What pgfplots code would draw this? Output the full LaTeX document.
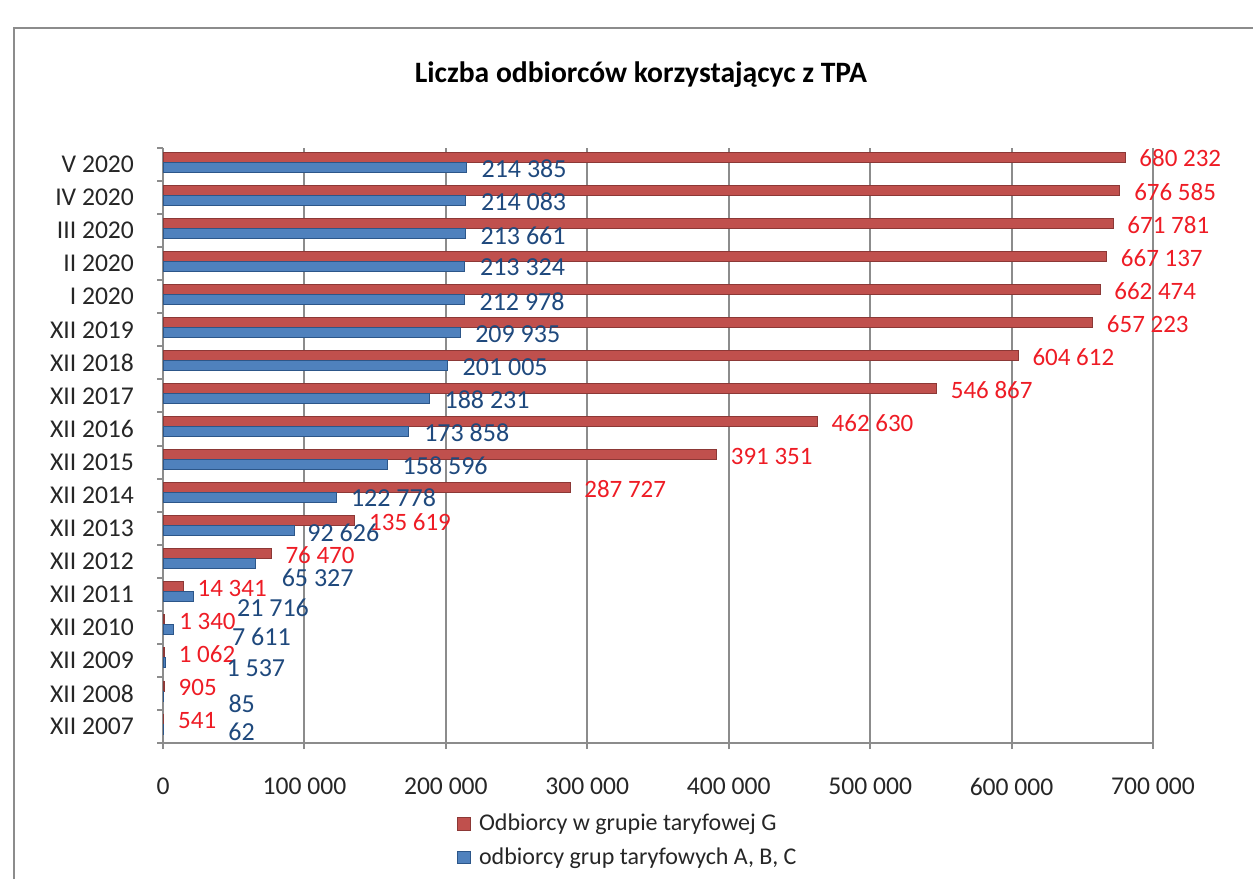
\documentclass[border=0pt]{standalone}
\usepackage{pgfplots}
\pgfplotsset{compat=1.18}
\usepackage{pgfplotstable}
\usepackage{fontspec}
\setmainfont{Carlito}
\definecolor{barred}{HTML}{C0504D}
\definecolor{barreddk}{HTML}{8C3836}
\definecolor{barblue}{HTML}{4F81BD}
\definecolor{barbluedk}{HTML}{2C5689}
\definecolor{labred}{HTML}{EE1C25}
\definecolor{labblue}{HTML}{1F497D}
\definecolor{gridgray}{HTML}{8C8C8C}

\pgfplotstableread[col sep=comma]{
y,g,b,glab,blab,bsh,bys
0,541,62,541,62,32.5,-2.75
1,905,85,905,85,32.5,-5
2,1062,1537,1 062,1 537,30.5,-4
3,1340,7611,1 340,7 611,29,-5
4,14341,21716,14 341,21 716,21.5,-7
5,76470,65327,76 470,65 327,13,-8.5
6,135619,92626,135 619,92 626,6.5,-2.5
7,287727,122778,287 727,122 778,7,-1.25
8,391351,158596,391 351,158 596,7.5,-2
9,462630,173858,462 630,173 858,7.5,-1.75
10,546867,188231,546 867,188 231,7.5,-2
11,604612,201005,604 612,201 005,7.5,-2
12,657223,209935,657 223,209 935,7.5,-2.25
13,662474,212978,662 474,212 978,7.5,-2.5
14,667137,213324,667 137,213 324,7.5,-1.75
15,671781,213661,671 781,213 661,7.5,-2.5
16,676585,214083,676 585,214 083,7.5,-2.25
17,680232,214385,680 232,214 385,7.5,-2.25
}\data

\begin{document}
\begin{tikzpicture}
\path[use as bounding box] (0,0) rectangle (626.5pt,439.5pt);
\draw[gridgray, line width=1pt] (7pt,0) -- (7pt,425.5pt) -- (626.5pt,425.5pt);
\node[font=\bfseries\fontsize{14.8}{17}\selectfont] at (320.5pt,402pt) {Liczba odbiorców korzystającyc z TPA};
\begin{axis}[
  at={(81.5pt,68pt)}, anchor=south west,
  scale only axis, width=495pt, height=297.5pt,
  xmin=0, xmax=700000, ymin=-0.5, ymax=17.5,
  axis x line*=bottom, axis y line*=left,
  axis line style={gridgray, line width=1pt, -},
  xtick={0,100000,200000,300000,400000,500000,600000,700000},
  xticklabels={0,100 000,200 000,300 000,400 000,500 000,600 000,700 000},
  scaled x ticks=false,
  xmajorgrids, grid style={gridgray, line width=1pt},
  ytick={0,...,17},
  yticklabels={XII 2007,XII 2008,XII 2009,XII 2010,XII 2011,XII 2012,XII 2013,XII 2014,XII 2015,XII 2016,XII 2017,XII 2018,XII 2019,I 2020,II 2020,III 2020,IV 2020,V 2020},
  minor ytick={-0.5,0.5,...,17.5},
  tick align=outside,
  major tick length=3pt, minor tick length=3pt,
  major y tick style={draw=none},
  minor y tick style={draw=gridgray, line width=1pt},
  xtick style={draw=gridgray, line width=1pt},
  ticklabel style={font=\fontsize{12.8}{14}\selectfont, text=black!85},
  yticklabel style={xshift=-8pt},
  xticklabel style={yshift=-11pt},
  /pgf/number format/assume math mode=true,
  legend style={at={(0.291,-0.105)}, anchor=north west, draw=none, fill=none,
    font=\fontsize{12}{14}\selectfont, row sep=3pt, text=black!85,
    nodes={inner xsep=4pt}},
  legend cell align=left,
  legend image code/.code={\fill[#1] (0pt,-3.2pt) rectangle (6.4pt,3.2pt);},
  clip=false,
]
\addplot[xbar, bar width=5pt, bar shift=3.75pt, fill=barred, draw=barreddk, line width=0.4pt,
  nodes near coords, point meta=explicit symbolic,
  nodes near coords style={anchor=west, inner sep=0pt, xshift=7pt, yshift=3pt,
    text=labred, font=\fontsize{12.5}{14}\selectfont}]
  table[x=g, y=y, meta=glab]{\data};
\addlegendentry{Odbiorcy w grupie taryfowej G}
\addplot[xbar, bar width=5pt, bar shift=-1.25pt, fill=barblue, draw=barbluedk, line width=0.4pt,
  nodes near coords, point meta=explicit symbolic,
  visualization depends on={\thisrow{bsh} \as \lblshift},
  visualization depends on={\thisrow{bys} \as \lblys},
  nodes near coords style={anchor=west, inner sep=0pt, xshift=\lblshift pt, yshift=\lblys pt,
    text=labblue, font=\fontsize{13}{15}\selectfont}]
  table[x=b, y=y, meta=blab]{\data};
\addlegendentry{odbiorcy grup taryfowych A, B, C}
\end{axis}
\end{tikzpicture}
\end{document}
